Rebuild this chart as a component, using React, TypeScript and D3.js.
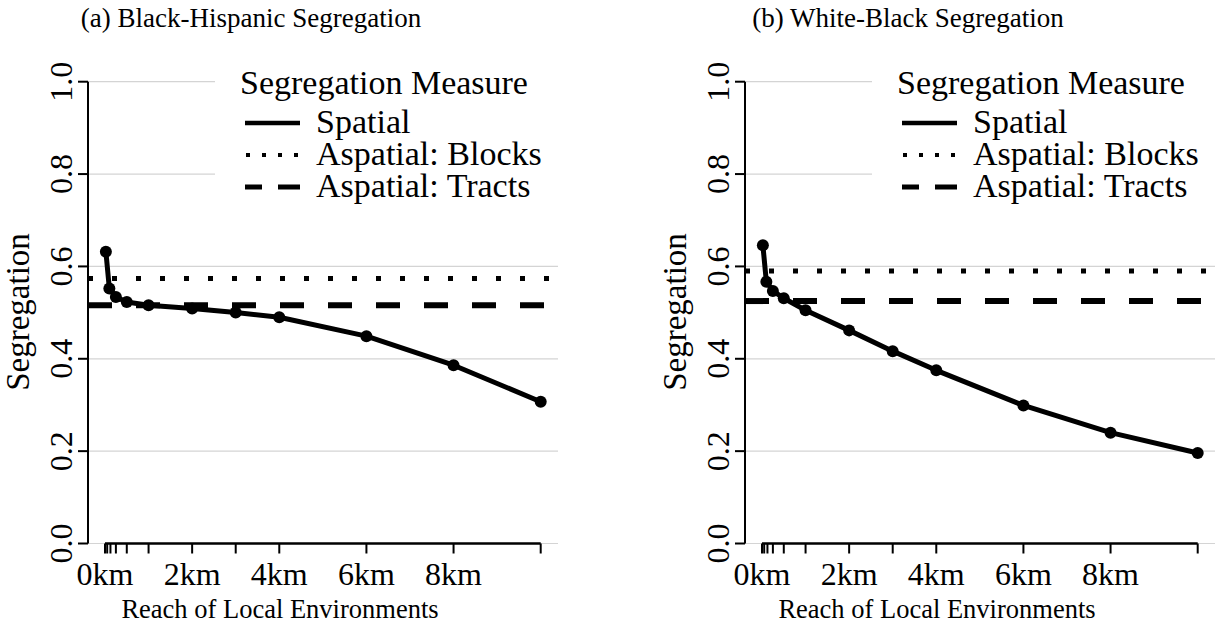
import React from "react";
import * as d3 from "d3";

// Reach of local environment (km) at which spatial segregation was measured
const reachKm = [0.02, 0.1, 0.25, 0.5, 1, 2, 3, 4, 6, 8, 10];

// Spatial segregation by reach
const blackHispanicSpatial = [0.632, 0.552, 0.534, 0.523, 0.516, 0.509, 0.5, 0.49, 0.449, 0.386, 0.307];
const whiteBlackSpatial = [0.646, 0.567, 0.547, 0.531, 0.505, 0.4615, 0.4165, 0.375, 0.299, 0.24, 0.196];

// Aspatial benchmarks
const blackHispanicBlocks = 0.574;
const blackHispanicTracts = 0.516;
const whiteBlackBlocks = 0.59;
const whiteBlackTracts = 0.525;

// Axis ticks
const xTickValues = [0, 0.05, 0.125, 0.25, 0.5, 1, 2, 3, 4, 6, 8, 10];
const xLabelValues = [0, 2, 4, 6, 8];
const yTickValues = [0, 0.2, 0.4, 0.6, 0.8, 1.0];

const legendTitle = "Segregation Measure";
const legendLabels = ["Spatial", "Aspatial: Blocks", "Aspatial: Tracts"];

const panelTitles = ["(a) Black-Hispanic Segregation", "(b) White-Black Segregation"];
const xAxisTitle = "Reach of Local Environments";
const yAxisTitle = "Segregation";

const FONT = "'Liberation Serif', 'Times New Roman', serif";

type PanelProps = {
  dx: number;
  title: string;
  spatial: number[];
  blocks: number;
  tracts: number;
};

function Panel({ dx, title, spatial, blocks, tracts }: PanelProps) {
  const axisX = 88;
  const gridRight = 558;
  const x = d3.scaleLinear().domain([0, 10]).range([105, 540.7]);
  const y = d3.scaleLinear().domain([0, 1]).range([543.5, 81.7]);
  const line = d3
    .line<number>()
    .x((_, i) => x(reachKm[i]))
    .y((d) => y(d));

  const legendKeyX1 = 245;
  const legendKeyX2 = 300;
  const legendRows = [123, 155, 187];

  return (
    <g transform={`translate(${dx},0)`}>
      <text x={251} y={27} fontSize={27} textAnchor="middle" fontFamily={FONT}>
        {title}
      </text>

      {/* grid */}
      {yTickValues.map((v) => (
        <line key={`g${v}`} x1={axisX} x2={gridRight} y1={y(v)} y2={y(v)} stroke="#d4d4d4" strokeWidth={1.2} />
      ))}

      {/* legend */}
      <rect x={215} y={58} width={350} height={145} fill="#fff" />
      <text x={240} y={94} fontSize={34} fontFamily={FONT}>
        {legendTitle}
      </text>
      <line x1={legendKeyX1} x2={legendKeyX2} y1={legendRows[0]} y2={legendRows[0]} stroke="#000" strokeWidth={4.5} />
      <line
        x1={legendKeyX1 + 1}
        x2={legendKeyX2}
        y1={legendRows[1]}
        y2={legendRows[1]}
        stroke="#000"
        strokeWidth={4}
        strokeDasharray="4 12"
      />
      <line
        x1={legendKeyX1}
        x2={legendKeyX2}
        y1={legendRows[2]}
        y2={legendRows[2]}
        stroke="#000"
        strokeWidth={5}
        strokeDasharray="17 16 22"
      />
      {legendLabels.map((lab, i) => (
        <text key={lab} x={316} y={legendRows[i] + 10} fontSize={34} fontFamily={FONT}>
          {lab}
        </text>
      ))}

      {/* aspatial reference lines */}
      <line x1={axisX} x2={557} y1={y(blocks)} y2={y(blocks)} stroke="#000" strokeWidth={5} strokeDasharray="5 19" />
      <line x1={axisX} x2={557} y1={y(tracts)} y2={y(tracts)} stroke="#000" strokeWidth={6} strokeDasharray="24 24" />

      {/* spatial series */}
      <path d={line(spatial) ?? ""} fill="none" stroke="#000" strokeWidth={5} strokeLinejoin="round" />
      {spatial.map((v, i) => (
        <circle key={`p${i}`} cx={x(reachKm[i])} cy={y(v)} r={6} fill="#000" />
      ))}

      {/* y axis */}
      <line x1={axisX} x2={axisX} y1={y(0)} y2={y(1)} stroke="#000" strokeWidth={2} />
      {yTickValues.map((v) => (
        <g key={`yt${v}`}>
          <line x1={axisX - 10} x2={axisX} y1={y(v)} y2={y(v)} stroke="#000" strokeWidth={2} />
          <text
            transform={`translate(72,${y(v)}) rotate(-90)`}
            textAnchor="middle"
            fontSize={32}
            fontFamily={FONT}
          >
            {d3.format(".1f")(v)}
          </text>
        </g>
      ))}
      <text transform={`translate(29,312) rotate(-90)`} textAnchor="middle" fontSize={33} fontFamily={FONT}>
        {yAxisTitle}
      </text>

      {/* x axis */}
      <line x1={x(0)} x2={x(10)} y1={y(0)} y2={y(0)} stroke="#000" strokeWidth={2.5} />
      {xTickValues.map((v) => (
        <line key={`xt${v}`} x1={x(v)} x2={x(v)} y1={y(0)} y2={y(0) + 10} stroke="#000" strokeWidth={2} />
      ))}
      {xLabelValues.map((v) => (
        <text key={`xl${v}`} x={x(v)} y={585} textAnchor="middle" fontSize={32} fontFamily={FONT}>
          {`${v}km`}
        </text>
      ))}
      <text x={280} y={618} textAnchor="middle" fontSize={26.5} fontFamily={FONT}>
        {xAxisTitle}
      </text>
    </g>
  );
}

export default function App() {
  return (
    <svg
      width={1221}
      height={630}
      style={{ position: "absolute", left: 0, top: 0, background: "#fff" }}
    >
      <rect width={1221} height={630} fill="#fff" />
      <Panel
        dx={0}
        title={panelTitles[0]}
        spatial={blackHispanicSpatial}
        blocks={blackHispanicBlocks}
        tracts={blackHispanicTracts}
      />
      <Panel
        dx={657}
        title={panelTitles[1]}
        spatial={whiteBlackSpatial}
        blocks={whiteBlackBlocks}
        tracts={whiteBlackTracts}
      />
    </svg>
  );
}
